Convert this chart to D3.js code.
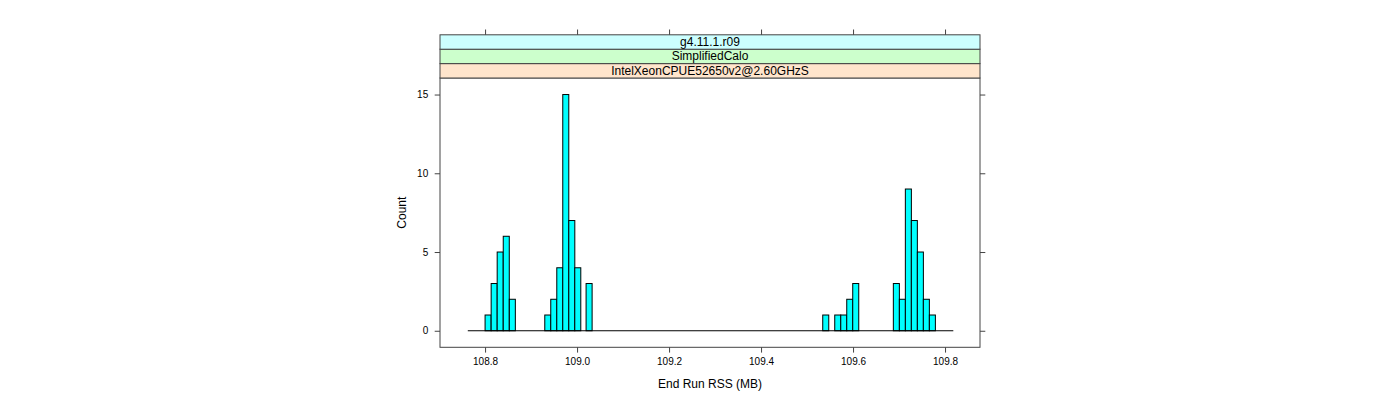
<!DOCTYPE html>
<html>
<head>
<meta charset="utf-8">
<script src="https://cdn.jsdelivr.net/npm/d3@7"></script>
<style>
  html, body { margin: 0; padding: 0; background: #ffffff; }
  svg { display: block; }
  text { font-family: "Liberation Sans", Arial, Helvetica, sans-serif; fill: #000; }
</style>
</head>
<body>
<svg id="chart" width="1400" height="400"></svg>
<script>
// ---- data ----
const stripLabels = ["IntelXeonCPUE52650v2@2.60GHzS", "SimplifiedCalo", "g4.11.1.r09"]; // bottom -> top
const binStarts = [
  108.800, 108.8132, 108.8263, 108.8395, 108.8527,
  108.9298, 108.9428, 108.9559, 108.9689, 108.9820, 108.9950,
  109.0196,
  109.5341,
  109.5602, 109.5733, 109.5863, 109.5993,
  109.6876, 109.7007, 109.7137, 109.7267, 109.7398, 109.7528, 109.7659
];
const counts = [
  1, 3, 5, 6, 2,
  1, 2, 4, 15, 7, 4,
  3,
  1,
  1, 1, 2, 3,
  3, 2, 9, 7, 5, 2, 1
];
const binWidth = 0.0131;
const breaksRange = [108.7624, 109.818];
const xTicks = [108.8, 109.0, 109.2, 109.4, 109.6, 109.8];
const yTicks = [0, 5, 10, 15];
const xLim = [108.702, 109.876];
const yLim = [-1.05, 16.05];
const xTitle = "End Run RSS (MB)";
const yTitle = "Count";

// ---- layout ----
const panel = { left: 440, right: 980, top: 78, bottom: 347.3 };
const stripH = 14.4;
const stripColors = ["#ffe5cc", "#ccffcc", "#ccffff"];

const svg = d3.select("#chart");
const x = d3.scaleLinear().domain(xLim).range([panel.left, panel.right]);
const y = d3.scaleLinear().domain(yLim).range([panel.bottom, panel.top]);

const borderCol = "#444";

// bars
svg.append("g").selectAll("rect").data(binStarts).enter().append("rect")
  .attr("x", d => x(d))
  .attr("y", (d, i) => y(counts[i]))
  .attr("width", d => x(d + binWidth) - x(d))
  .attr("height", (d, i) => y(0) - y(counts[i]))
  .attr("fill", "#00ffff")
  .attr("stroke", "#000")
  .attr("stroke-width", 1);

// baseline (zero-height bins)
svg.append("line")
  .attr("x1", x(breaksRange[0])).attr("x2", x(breaksRange[1]))
  .attr("y1", y(0)).attr("y2", y(0))
  .attr("stroke", "#000").attr("stroke-width", 1);

// panel box
svg.append("rect")
  .attr("x", panel.left).attr("y", panel.top)
  .attr("width", panel.right - panel.left).attr("height", panel.bottom - panel.top)
  .attr("fill", "none").attr("stroke", borderCol).attr("stroke-width", 1);

// strips
const stripTopAll = panel.top - stripH * stripLabels.length;
stripLabels.forEach((lab, i) => {
  const yy = panel.top - stripH * (i + 1);
  svg.append("rect")
    .attr("x", panel.left).attr("y", yy)
    .attr("width", panel.right - panel.left).attr("height", stripH)
    .attr("fill", stripColors[i]).attr("stroke", borderCol).attr("stroke-width", 1);
  svg.append("text")
    .attr("x", (panel.left + panel.right) / 2)
    .attr("y", yy + stripH / 2 + 4)
    .attr("text-anchor", "middle")
    .attr("font-size", 12)
    .text(lab);
});

// axes
const tickLen = 5.3;
const axB = svg.append("g").attr("transform", `translate(0,${panel.bottom})`)
  .call(d3.axisBottom(x).tickValues(xTicks).tickFormat(d3.format(".1f")).tickSize(tickLen).tickSizeOuter(0));
const axT = svg.append("g").attr("transform", `translate(0,${stripTopAll})`)
  .call(d3.axisTop(x).tickValues(xTicks).tickFormat("").tickSize(tickLen).tickSizeOuter(0));
const axL = svg.append("g").attr("transform", `translate(${panel.left},0)`)
  .call(d3.axisLeft(y).tickValues(yTicks).tickFormat(d3.format("d")).tickSize(tickLen).tickSizeOuter(0));
const axR = svg.append("g").attr("transform", `translate(${panel.right},0)`)
  .call(d3.axisRight(y).tickValues(yTicks).tickFormat("").tickSize(tickLen).tickSizeOuter(0));

[axB, axT, axL, axR].forEach(a => {
  a.select(".domain").remove();
  a.selectAll(".tick line").attr("stroke", borderCol);
  a.selectAll(".tick text").attr("font-size", 10).attr("fill", "#000")
    .attr("font-family", '"Liberation Sans", Arial, sans-serif');
});
axB.selectAll(".tick text").attr("dy", "0.95em").attr("y", tickLen + 3);
axL.selectAll(".tick text").attr("x", -(tickLen + 6.5));

// titles
svg.append("text")
  .attr("x", (panel.left + panel.right) / 2).attr("y", 388)
  .attr("text-anchor", "middle").attr("font-size", 12)
  .text(xTitle);
svg.append("text")
  .attr("transform", `translate(406,${(panel.top + panel.bottom) / 2}) rotate(-90)`)
  .attr("text-anchor", "middle").attr("font-size", 12)
  .text(yTitle);
</script>
</body>
</html>
